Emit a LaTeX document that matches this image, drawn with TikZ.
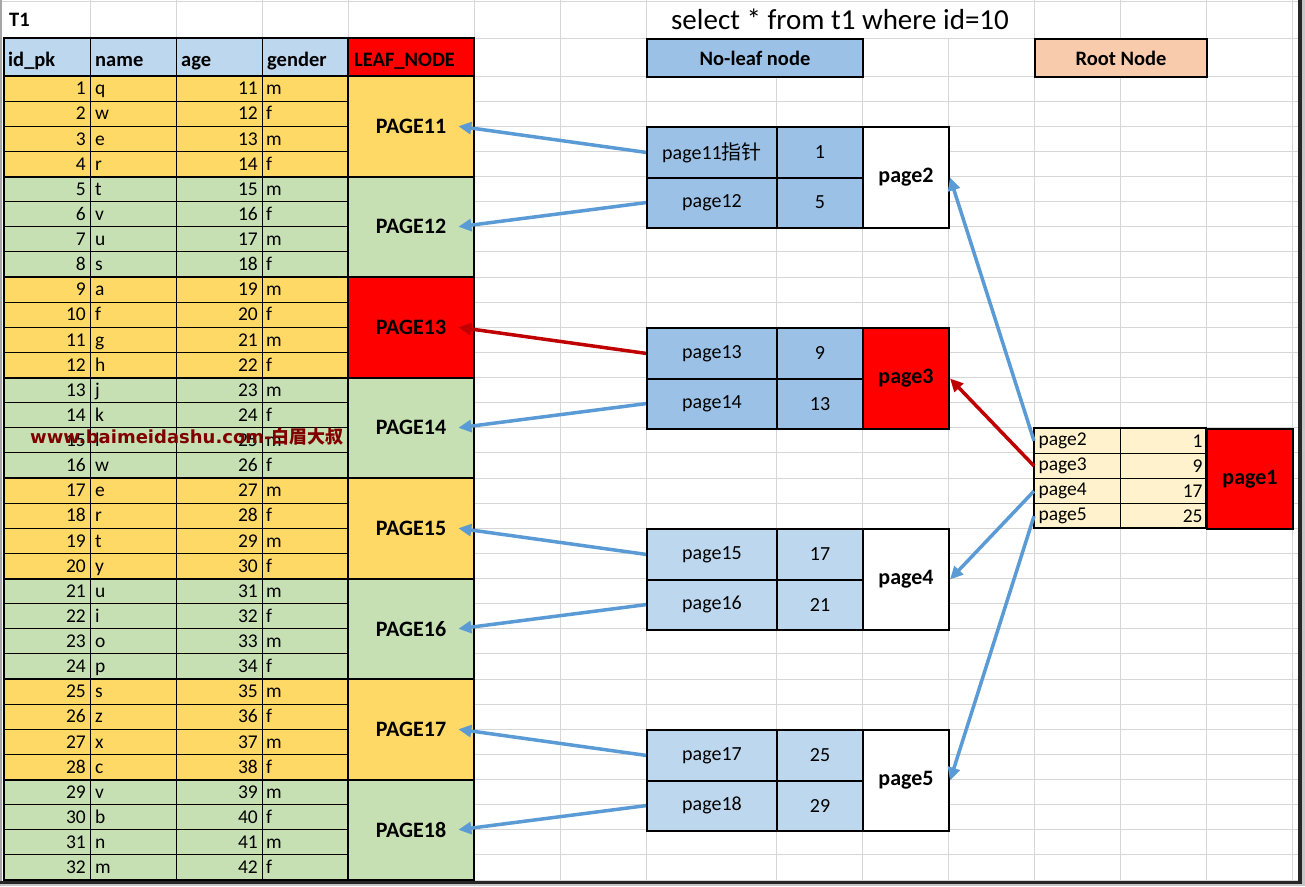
\documentclass[tikz,border=0pt]{standalone}
\usepackage{fontspec}
\setmainfont{Carlito}
\newfontfamily\cjk{Noto Sans CJK SC}
\newfontfamily\wmfont{DejaVu Sans}
\usetikzlibrary{arrows.meta}
\definecolor{hdrblue}{HTML}{BDD7EE}
\definecolor{yel}{HTML}{FFD966}
\definecolor{grn}{HTML}{C6E0B4}
\definecolor{nblue}{HTML}{9BC2E6}
\definecolor{lblue}{HTML}{BDD7EE}
\definecolor{rootc}{HTML}{FFF2CC}
\definecolor{rooth}{HTML}{F8CBAD}
\definecolor{gridc}{HTML}{D6D6D6}
\definecolor{arrb}{HTML}{5B9BD5}
\definecolor{arrr}{HTML}{C00000}
\definecolor{wmc}{HTML}{800000}
\definecolor{xred}{HTML}{FF0000}
\begin{document}
\begin{tikzpicture}[x=1pt,y=-1pt,
  gline/.style={draw=gridc,line width=1pt},
  tline/.style={line width=1pt,black},
  kline/.style={line width=2pt,black},
  dt/.style={inner sep=0pt,text=black,font=\fontsize{19.5}{22}\selectfont},
  ht/.style={inner sep=0pt,text=black,font=\fontsize{20.5}{24}\bfseries\selectfont},
  pagelbl/.style={inner xsep=12pt,inner ysep=2pt,text=black,font=\fontsize{22}{24}\bfseries\selectfont},
  ncell/.style={draw,line width=2pt,inner sep=0pt,anchor=north west,text=black,font=\fontsize{20}{22}\selectfont},
  pcell/.style={ncell,font=\fontsize{22}{24}\bfseries\selectfont,minimum width=86pt,minimum height=100.5pt},
  rcell/.style={draw,line width=1pt,fill=rootc,inner xsep=4pt,inner ysep=0pt,anchor=north west,minimum height=25.125pt,text width=78pt,font=\fontsize{19.5}{21}\selectfont},
  barr/.style={arrb,line width=3.5pt,-{Triangle[length=13pt,width=12pt]}},
  rarr/.style={arrr,line width=3.5pt,-{Triangle[length=13pt,width=12pt]}},
]
\useasboundingbox (0,0) rectangle (1305,886);
\fill[white] (0,0) rectangle (1305,886);
% ---------- grid lines ----------
\draw[gline] (0,1) -- (1298,1);
\foreach \x in {90,176,262,348,474,560,646,1034,1120,1206,1292} \draw[gline] (\x,0) -- (\x,38);
\foreach \x in {560,646,776,862,948,1034,1120,1206,1292} \draw[gline] (\x,38) -- (\x,882);
\draw[gline] (474,38) -- (1298,38);
\draw[gline] (474,76) -- (1298,76);
\foreach \i in {1,...,32} {
  \pgfmathsetmacro{\yy}{76+\i*25.125}
  \draw[gline] (474,\yy) -- (1298,\yy);
}
% ---------- left table fills ----------
\fill[hdrblue] (4,38) rectangle (348,76);
\fill[xred] (348,38) rectangle (474,76);
\foreach \g in {0,...,7} {
  \pgfmathsetmacro{\ya}{76+\g*100.5}
  \pgfmathsetmacro{\yb}{76+(\g+1)*100.5}
  \pgfmathtruncatemacro{\ev}{mod(\g,2)}
  \ifnum\ev=0 \def\fc{yel}\else\def\fc{grn}\fi
  \fill[fill=\fc] (4,\ya) rectangle (474,\yb);
}
\fill[xred] (348,277) rectangle (474,377.5);
% ---------- left table lines ----------
\foreach \i in {1,...,31} {
  \pgfmathsetmacro{\yy}{76+\i*25.125}
  \draw[tline] (4,\yy) -- (348,\yy);
}
\foreach \g in {1,...,7} {
  \pgfmathsetmacro{\yy}{76+\g*100.5}
  \draw[kline] (4,\yy) -- (474,\yy);
}
\foreach \x in {90,176,262} \draw[tline] (\x,38) -- (\x,880);
\draw[kline] (348,38) -- (348,880);
\draw[kline] (4,76) -- (474,76);
\draw[kline] (4,38) rectangle (474,880);
% ---------- left table texts ----------
\node[ht,anchor=base west] (t1) at (9,27) {T1};
\node[ht,anchor=base west] (hid) at (8,66.5) {id\_pk};
\node[ht,anchor=base west] (hnm) at (95,66.5) {name};
\node[ht,anchor=base west] (hag) at (181,66.5) {age};
\node[ht,anchor=base west] (hgd) at (267,66.5) {gender};
\node[ht,anchor=base west] (hlf) at (354,66.5) {LEAF\_NODE};
\foreach \nm [count=\i] in {q,w,e,r,t,v,u,s,a,f,g,h,j,k,l,w,e,r,t,y,u,i,o,p,s,z,x,c,v,b,n,m} {
  \pgfmathsetmacro{\yb}{76+\i*25.125-6.3}
  \pgfmathtruncatemacro{\ag}{\i+10}
  \pgfmathtruncatemacro{\od}{mod(\i,2)}
  \node[dt,anchor=base east] (id\i) at (86,\yb) {\i};
  \node[dt,anchor=base west] (nm\i) at (95,\yb) {\nm};
  \node[dt,anchor=base east] (ag\i) at (258,\yb) {\ag};
  \node[dt,anchor=base west] (gd\i) at (266,\yb) {\ifnum\od=1 m\else f\fi};
}
\foreach \p [count=\g from 0] in {11,...,18} {
  \pgfmathsetmacro{\yc}{76+(\g+0.5)*100.5}
  \node[pagelbl] (P\p) at (411,\yc) {PAGE\p};
}
% ---------- title and headers ----------
\node[inner sep=0pt,font=\fontsize{29}{31}\selectfont] (title) at (840,19) {select * from t1 where id=10};
\node[ncell,fill=nblue,minimum width=216pt,minimum height=38pt,font=\fontsize{20.5}{24}\bfseries\selectfont] (nlh) at (646,38) {No-leaf node};
\node[ncell,fill=rooth,minimum width=172pt,minimum height=38pt,font=\fontsize{20.5}{24}\bfseries\selectfont] (rth) at (1034,38) {Root Node};
% ---------- non-leaf nodes ----------
\node[ncell,fill=nblue,minimum width=130pt,minimum height=50.25pt] (n11) at (646,126.25) {page11{\cjk 指针}};
\node[ncell,fill=nblue,minimum width=86pt,minimum height=50.25pt] (v11) at (776,126.25) {1};
\node[ncell,fill=nblue,minimum width=130pt,minimum height=50.25pt] (n12) at (646,176.5) {page12};
\node[ncell,fill=nblue,minimum width=86pt,minimum height=50.25pt] (v12) at (776,176.5) {5};
\node[pcell,fill=white] (pg2) at (862,126.25) {page2};
\node[ncell,fill=nblue,minimum width=130pt,minimum height=50.25pt] (n13) at (646,327.25) {page13};
\node[ncell,fill=nblue,minimum width=86pt,minimum height=50.25pt] (v13) at (776,327.25) {9};
\node[ncell,fill=nblue,minimum width=130pt,minimum height=50.25pt] (n14) at (646,377.5) {page14};
\node[ncell,fill=nblue,minimum width=86pt,minimum height=50.25pt] (v14) at (776,377.5) {13};
\node[pcell,fill=xred] (pg3) at (862,327.25) {page3};
\node[ncell,fill=lblue,minimum width=130pt,minimum height=50.25pt] (n15) at (646,528.25) {page15};
\node[ncell,fill=lblue,minimum width=86pt,minimum height=50.25pt] (v15) at (776,528.25) {17};
\node[ncell,fill=lblue,minimum width=130pt,minimum height=50.25pt] (n16) at (646,578.5) {page16};
\node[ncell,fill=lblue,minimum width=86pt,minimum height=50.25pt] (v16) at (776,578.5) {21};
\node[pcell,fill=white] (pg4) at (862,528.25) {page4};
\node[ncell,fill=lblue,minimum width=130pt,minimum height=50.25pt] (n17) at (646,729.25) {page17};
\node[ncell,fill=lblue,minimum width=86pt,minimum height=50.25pt] (v17) at (776,729.25) {25};
\node[ncell,fill=lblue,minimum width=130pt,minimum height=50.25pt] (n18) at (646,779.5) {page18};
\node[ncell,fill=lblue,minimum width=86pt,minimum height=50.25pt] (v18) at (776,779.5) {29};
\node[pcell,fill=white] (pg5) at (862,729.25) {page5};
% ---------- root node ----------
\node[rcell,align=left] (r2) at (1034,427.75) {page2};
\node[rcell,align=right] (w2) at (1120,427.75) {1};
\node[rcell,align=left] (r3) at (1034,452.875) {page3};
\node[rcell,align=right] (w3) at (1120,452.875) {9};
\node[rcell,align=left] (r4) at (1034,478) {page4};
\node[rcell,align=right] (w4) at (1120,478) {17};
\node[rcell,align=left] (r5) at (1034,503.125) {page5};
\node[rcell,align=right] (w5) at (1120,503.125) {25};
\draw[kline] (1034,427.75) rectangle (1206,528.25);
\node[pcell,fill=xred] (pg1) at (1206,427.75) {page1};
% ---------- watermark ----------
\node[anchor=west,inner sep=0pt,text=wmc,font=\wmfont\bfseries\fontsize{18}{22}\selectfont] (wm) at (30,437) {www.baimeidashu.com-{\cjk 白眉大叔}};
% ---------- connectors ----------
\draw[barr] (n11.west) -- (P11.east);
\draw[barr] (n12.west) -- (P12.east);
\draw[rarr] (n13.west) -- (P13.east);
\draw[barr] (n14.west) -- (P14.east);
\draw[barr] (n15.west) -- (P15.east);
\draw[barr] (n16.west) -- (P16.east);
\draw[barr] (n17.west) -- (P17.east);
\draw[barr] (n18.west) -- (P18.east);
\draw[barr] (r2.west) -- (pg2.east);
\draw[rarr] (r3.west) -- (pg3.east);
\draw[barr] (r4.west) -- (pg4.east);
\draw[barr] (r5.west) -- (pg5.east);
% ---------- window frame ----------
\draw[line width=1.5pt,gray!70] (1,0) -- (1,882);
\draw[line width=4pt,black!85] (1300,0) -- (1300,884);
\draw[line width=3pt,black!85] (0,882.5) -- (1302,882.5);
\fill[gray!45] (1302,0) rectangle (1305,886);
\fill[gray!45] (0,884) rectangle (1305,886);
\end{tikzpicture}
\end{document}
